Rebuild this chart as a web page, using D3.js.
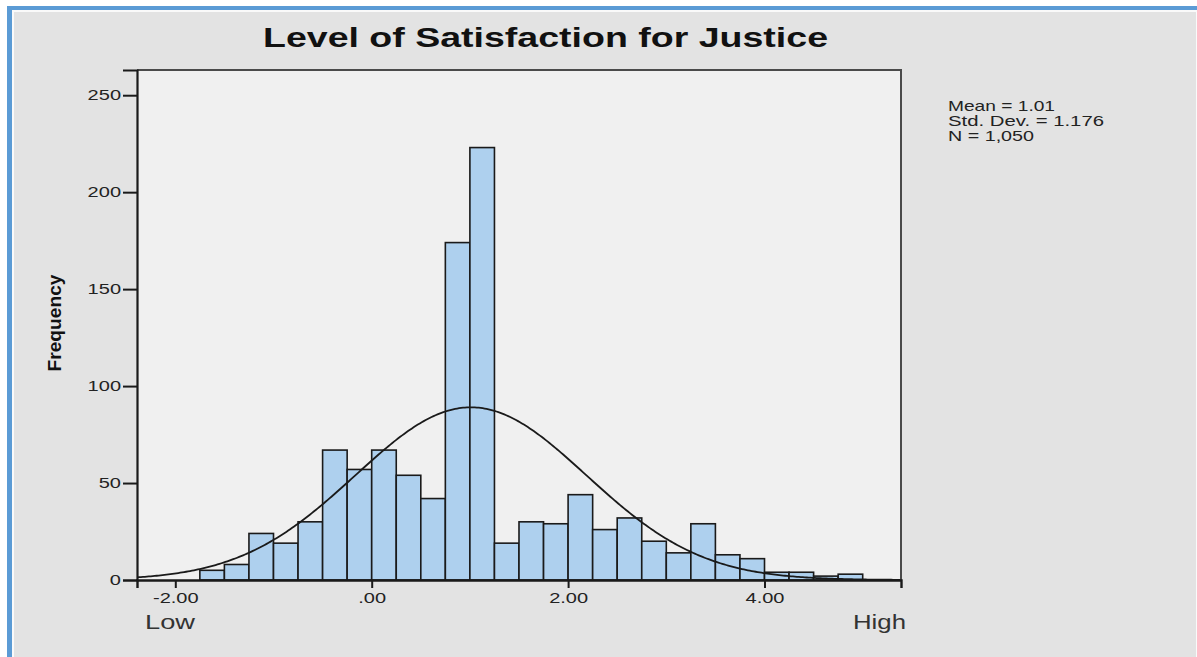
<!DOCTYPE html>
<html lang="en">
<head>
<meta charset="UTF-8">
<title>Level of Satisfaction for Justice</title>
<style>
  body { margin: 0; background: #fff; }
  svg { display: block; }
  text { font-family: "Liberation Sans", Arial, sans-serif; }
</style>
</head>
<body>
<svg width="1197" height="657"></svg>
<script src="https://d3js.org/d3.v7.min.js"></script>
<script>
// histogram bins (lower edges) and their frequencies
var binStarts = [-1.75, -1.5, -1.25, -1.0, -0.75, -0.5, -0.25, 0.0, 0.25, 0.5, 0.75, 1.0, 1.25,
                 1.5, 1.75, 2.0, 2.25, 2.5, 2.75, 3.0, 3.25, 3.5, 3.75, 4.0, 4.25, 4.5, 4.75];
var counts = [5, 8, 24, 19, 30, 67, 57, 67, 54, 42, 174, 223, 19,
              30, 29, 44, 26, 32, 20, 14, 29, 13, 11, 4, 4, 2, 3];
var binWidth = 0.25;

var xTicks = [-2, 0, 2, 4];
var xTickLabels = ["-2.00", ".00", "2.00", "4.00"];
var yTicks = [0, 50, 100, 150, 200, 250];

var mean = 1.01, stdDev = 1.176, N = 1050;
var statLines = ["Mean = 1.01", "Std. Dev. = 1.176", "N = 1,050"];

var svg = d3.select("svg");

// the source image is stretched sideways, so text gets widened too
function widen(sel, k) {
    sel.each(function(){
        var w = this.getComputedTextLength();
        d3.select(this).attr("textLength", w * k).attr("lengthAdjust", "spacingAndGlyphs");
    });
}

// frame: blue border, white inner line, grey panel
svg.append("rect").attr("x", 7).attr("y", 6).attr("width", 1190).attr("height", 660).attr("fill", "#5b9bd5");
svg.append("rect").attr("x", 12).attr("y", 10).attr("width", 1185).attr("height", 660).attr("fill", "#fafafa");
svg.append("rect").attr("x", 14).attr("y", 12).attr("width", 1182).attr("height", 660).attr("fill", "#e3e3e3");

var plot = {left: 137, right: 901, top: 70, bottom: 580};

var x = d3.scaleLinear().domain([-2.39, 5.39]).range([plot.left, plot.right]);
var y = d3.scaleLinear().domain([0, 263]).range([plot.bottom, plot.top]);

// plot background
svg.append("rect")
    .attr("x", plot.left).attr("y", plot.top)
    .attr("width", plot.right - plot.left).attr("height", plot.bottom - plot.top)
    .attr("fill", "#f0f0f0");

// bars
svg.append("g").selectAll("rect")
    .data(counts)
    .enter()
    .append("rect")
    .attr("x", function(d, i){ return x(binStarts[i]); })
    .attr("y", function(d){ return y(d); })
    .attr("width", function(d, i){ return x(binStarts[i] + binWidth) - x(binStarts[i]); })
    .attr("height", function(d){ return y(0) - y(d); })
    .attr("fill", "#aed0ee")
    .attr("stroke", "#1a1a1a")
    .attr("stroke-width", 1.6);

// normal curve from the stats
var scale = N * binWidth / (stdDev * Math.sqrt(2 * Math.PI));
var curvePts = d3.range(-2.39, 5.391, 0.02).map(function(v){
    var z = (v - mean) / stdDev;
    return [v, scale * Math.exp(-0.5 * z * z)];
});
svg.append("path")
    .datum(curvePts)
    .attr("fill", "none")
    .attr("stroke", "#1a1a1a")
    .attr("stroke-width", 1.8)
    .attr("d", d3.line().x(function(d){ return x(d[0]); }).y(function(d){ return y(d[1]); }));

// plot frame (top + right)
svg.append("path")
    .attr("d", "M" + plot.left + "," + plot.top + "H" + plot.right + "V" + plot.bottom)
    .attr("fill", "none").attr("stroke", "#4a4a4a").attr("stroke-width", 2);

// y axis
var yAxis = svg.append("g")
    .attr("transform", "translate(" + plot.left + ",0)")
    .call(d3.axisLeft(y).tickValues(yTicks).tickSize(14).tickPadding(2));
yAxis.select(".domain").attr("stroke", "#1a1a1a").attr("stroke-width", 2.2);
yAxis.selectAll(".tick line").attr("stroke", "#1a1a1a").attr("stroke-width", 2);
yAxis.selectAll(".tick text")
    .attr("font-family", "'Liberation Sans', Arial, sans-serif")
    .attr("font-size", 14).attr("fill", "#222");
widen(yAxis.selectAll(".tick text"), 1.43);

// x axis
var xAxis = svg.append("g")
    .attr("transform", "translate(0," + plot.bottom + ")")
    .call(d3.axisBottom(x).tickValues(xTicks).tickSize(8).tickPadding(5)
        .tickFormat(function(d, i){ return xTickLabels[i]; }));
xAxis.select(".domain").attr("stroke", "#1a1a1a").attr("stroke-width", 2.4);
xAxis.selectAll(".tick line").attr("stroke", "#1a1a1a").attr("stroke-width", 2);
xAxis.selectAll(".tick text")
    .attr("font-family", "'Liberation Sans', Arial, sans-serif")
    .attr("font-size", 14).attr("fill", "#222");
widen(xAxis.selectAll(".tick text"), 1.43);

// title
svg.append("text")
    .attr("x", 263).attr("y", 47)
    .attr("font-size", 27).attr("font-weight", "bold").attr("fill", "#111")
    .attr("textLength", 565).attr("lengthAdjust", "spacingAndGlyphs")
    .text("Level of Satisfaction for Justice");

// y axis title
svg.append("text")
    .attr("transform", "translate(61,323) rotate(-90)")
    .attr("text-anchor", "middle")
    .attr("font-family", "'Liberation Sans Narrow', 'DejaVu Sans Condensed', sans-serif")
    .attr("font-size", 18).attr("font-weight", "bold").attr("fill", "#111")
    .attr("textLength", 97).attr("lengthAdjust", "spacingAndGlyphs")
    .text("Frequency");

// low / high
svg.append("text").attr("x", 145).attr("y", 629).attr("font-size", 21).attr("fill", "#333")
    .attr("textLength", 50).attr("lengthAdjust", "spacingAndGlyphs").text("Low");
svg.append("text").attr("x", 853).attr("y", 629).attr("font-size", 21).attr("fill", "#333")
    .attr("textLength", 53).attr("lengthAdjust", "spacingAndGlyphs").text("High");

// stats box text
var statWidths = [107, 156, 86];
svg.append("g").selectAll("text")
    .data(statLines)
    .enter()
    .append("text")
    .attr("x", 948)
    .attr("y", function(d, i){ return 111 + i * 14.8; })
    .attr("font-size", 15).attr("fill", "#222")
    .attr("textLength", function(d, i){ return statWidths[i]; })
    .attr("lengthAdjust", "spacingAndGlyphs")
    .text(function(d){ return d; });
</script>
</body>
</html>
